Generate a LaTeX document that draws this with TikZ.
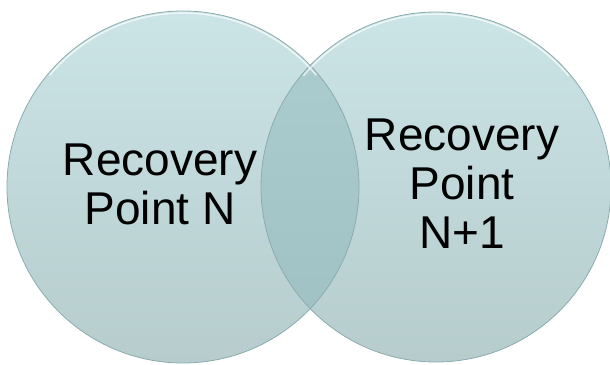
\documentclass[tikz,border=0pt]{standalone}
\usepackage{fontspec}
\setmainfont{Liberation Sans}
\usepackage{tikz}

\definecolor{bubbletop}{RGB}{203,228,230}
\definecolor{bubblebot}{RGB}{182,204,205}
\definecolor{lenstop}{RGB}{172,206,208}
\definecolor{lensbot}{RGB}{158,192,194}
\definecolor{rimcol}{RGB}{140,172,174}

\begin{document}
\begin{tikzpicture}[x=1pt,y=1pt,
  bubble/.style={top color=bubbletop,bottom color=bubblebot},
  lens/.style={top color=lenstop,bottom color=lensbot},
  rim/.style={draw=rimcol,line width=0.8pt},
  label/.style={align=center,font=\fontsize{46}{49}\selectfont}]
  \useasboundingbox (0,0) rectangle (610,364);
  % the two circles
  \shade[bubble] (183,177) circle (176);
  \shade[bubble] (436,177) circle (175);
  % their overlap
  \begin{scope}
    \clip (183,177) circle (176);
    \shade[lens] (436,177) circle (175);
  \end{scope}
  \draw[rim] (183,177) circle (176);
  \draw[rim] (436,177) circle (175);
  \draw[white,line width=1.5pt,opacity=0.7] (183,177) ++(40:174) arc (40:140:174);
  \draw[white,line width=1.5pt,opacity=0.7] (436,177) ++(40:173) arc (40:140:173);
  \node[label] (rpn) at (160,180) {Recovery\\Point N};
  \node[label] (rpnext) at (462,180) {Recovery\\Point\\N+1};
\end{tikzpicture}
\end{document}
